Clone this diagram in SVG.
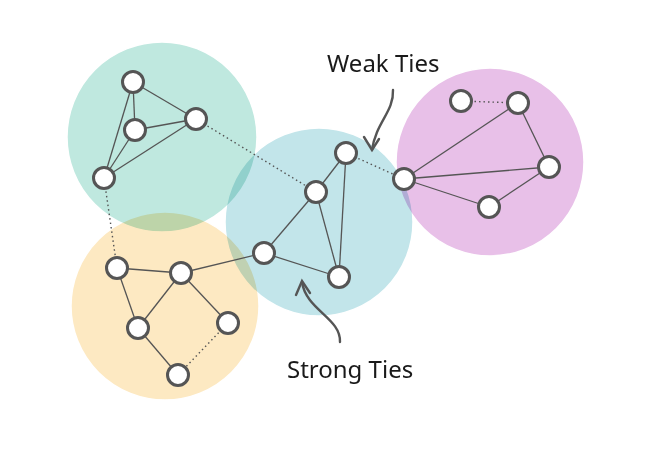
<svg xmlns="http://www.w3.org/2000/svg" width="665" height="468" viewBox="0 0 665 468">
<defs>
<style>
.cl{mix-blend-mode:multiply;stroke:#fff;stroke-width:1.5}
.e{stroke:#555;stroke-width:1.3;fill:none}
.d{stroke:#555;stroke-width:1.4;fill:none;stroke-dasharray:1.5 3}
.n{fill:#fff;stroke:#555;stroke-width:3}
.t{font-family:"Noto Sans","Open Sans",sans-serif;font-size:24px;fill:#1a1a1a}
.ar{stroke:#555;stroke-width:2.4;fill:none;stroke-linecap:round}
</style>
<marker id="ah" viewBox="0 0 10 10" refX="8" refY="5" markerWidth="5" markerHeight="5" orient="auto" markerUnits="userSpaceOnUse">
<path d="M1,1 L8,5 L1,9" fill="none" stroke="#555" stroke-width="0"/>
</marker>
</defs>
<rect width="665" height="468" fill="#fff"/>
<g id="clusters">
<circle class="cl" cx="162" cy="137" r="95" fill="#bfe8df"/>
<circle class="cl" cx="165" cy="306" r="94" fill="#fde9c2"/>
<circle class="cl" cx="319" cy="222" r="94" fill="#c2e5ea"/>
<circle class="cl" cx="490" cy="162" r="94" fill="#e8c0e8"/>
</g>
<g id="connectors">
<line class="e" x1="133" y1="82" x2="135" y2="130"/>
<line class="e" x1="133" y1="82" x2="196" y2="119"/>
<line class="e" x1="133" y1="82" x2="104" y2="178"/>
<line class="e" x1="135" y1="130" x2="196" y2="119"/>
<line class="e" x1="135" y1="130" x2="104" y2="178"/>
<line class="e" x1="196" y1="119" x2="104" y2="178"/>
<line class="d" x1="196" y1="119" x2="316" y2="192"/>
<line class="d" x1="104" y1="178" x2="117" y2="268"/>
<line class="e" x1="346" y1="153" x2="316" y2="192"/>
<line class="e" x1="346" y1="153" x2="339" y2="277"/>
<line class="e" x1="316" y1="192" x2="264" y2="253"/>
<line class="e" x1="316" y1="192" x2="339" y2="277"/>
<line class="e" x1="264" y1="253" x2="339" y2="277"/>
<line class="e" x1="264" y1="253" x2="181" y2="273"/>
<line class="d" x1="346" y1="153" x2="404" y2="179"/>
<line class="d" x1="461" y1="101" x2="518" y2="103"/>
<line class="e" x1="518" y1="103" x2="404" y2="179"/>
<line class="e" x1="518" y1="103" x2="549" y2="167"/>
<line class="e" x1="404" y1="179" x2="549" y2="167"/>
<line class="e" x1="404" y1="179" x2="489" y2="207"/>
<line class="e" x1="489" y1="207" x2="549" y2="167"/>
<line class="e" x1="117" y1="268" x2="181" y2="273"/>
<line class="e" x1="117" y1="268" x2="138" y2="328"/>
<line class="e" x1="181" y1="273" x2="138" y2="328"/>
<line class="e" x1="181" y1="273" x2="228" y2="323"/>
<line class="e" x1="138" y1="328" x2="178" y2="375"/>
<line class="d" x1="228" y1="323" x2="178" y2="375"/>
<path class="ar" d="M393,90 C394,112 376,122 372,150"/>
<path class="ar" d="M364,137 L372,150 L379,139"/>
<path class="ar" d="M340,342 C341,318 306,310 302,282"/>
<path class="ar" d="M296,295 L302,281 L310,293"/>
</g>
<g id="nodes">
<circle id="a1" class="n" cx="133" cy="82" r="10.5"/>
<circle id="a2" class="n" cx="135" cy="130" r="10.5"/>
<circle id="a3" class="n" cx="196" cy="119" r="10.5"/>
<circle id="a4" class="n" cx="104" cy="178" r="10.5"/>
<circle id="b1" class="n" cx="346" cy="153" r="10.5"/>
<circle id="b2" class="n" cx="316" cy="192" r="10.5"/>
<circle id="b3" class="n" cx="264" cy="253" r="10.5"/>
<circle id="b4" class="n" cx="339" cy="277" r="10.5"/>
<circle id="p1" class="n" cx="404" cy="179" r="10.5"/>
<circle id="p2" class="n" cx="461" cy="101" r="10.5"/>
<circle id="p3" class="n" cx="518" cy="103" r="10.5"/>
<circle id="p4" class="n" cx="549" cy="167" r="10.5"/>
<circle id="p5" class="n" cx="489" cy="207" r="10.5"/>
<circle id="y1" class="n" cx="117" cy="268" r="10.5"/>
<circle id="y2" class="n" cx="181" cy="273" r="10.5"/>
<circle id="y3" class="n" cx="138" cy="328" r="10.5"/>
<circle id="y4" class="n" cx="228" cy="323" r="10.5"/>
<circle id="y5" class="n" cx="178" cy="375" r="10.5"/>
</g>
<g id="labels">
<text class="t" x="327" y="72">Weak Ties</text>
<text class="t" x="287" y="378">Strong Ties</text>
</g>
</svg>
